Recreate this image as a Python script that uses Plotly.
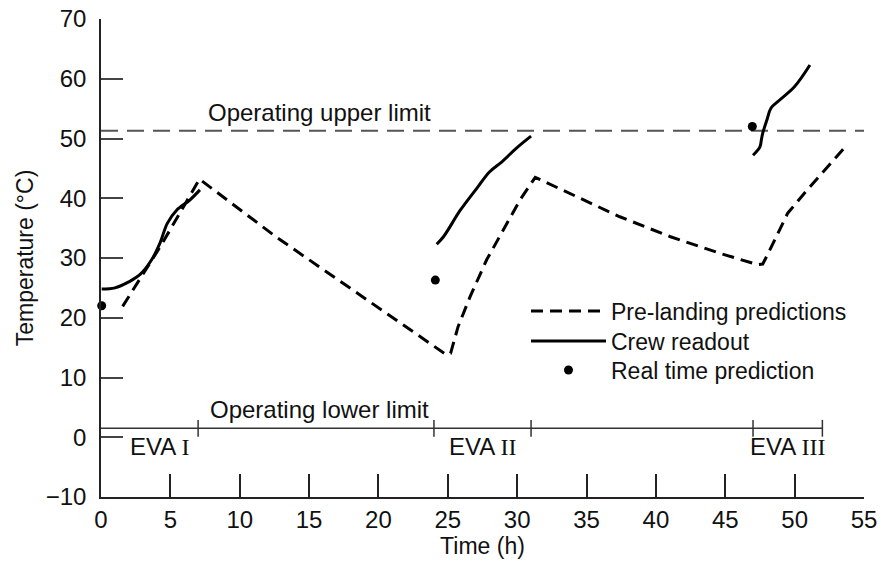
import plotly.graph_objects as go

# ---------------- data ----------------
pre_x = [1.56, 4.3, 7.1, 12.7, 24.9, 25.2, 25.74, 26.6, 27.8, 29.1, 30.2, 31.3,
         33.8, 37.4, 41.0, 44.6, 47.3, 47.7, 48.1, 48.7, 49.5, 50.8, 52.3, 53.5]
pre_y = [21.9, 32.0, 43.2, 33.4, 13.8, 14.05, 18.5, 23.5, 29.7, 35.2, 39.7, 43.5,
         40.8, 36.9, 33.6, 30.8, 28.9, 29.0, 30.8, 33.6, 37.5, 41.1, 45.0, 48.2]

crew1_x = [0.05, 1.0, 2.0, 2.8, 3.65, 4.25, 4.78, 5.45, 6.4, 7.13]
crew1_y = [24.8, 25.0, 26.0, 27.2, 29.7, 32.5, 35.8, 38.0, 39.7, 41.4]
crew2_x = [24.2, 24.7, 25.9, 27.1, 28.0, 28.9, 29.95, 31.0]
crew2_y = [32.3, 33.6, 38.0, 41.7, 44.4, 46.1, 48.4, 50.4]
crew3_x = [47.0, 47.5, 47.6, 47.7, 48.0, 48.3, 48.9, 50.0, 51.1]
crew3_y = [47.2, 48.6, 49.75, 50.9, 53.1, 55.1, 56.4, 58.7, 62.3]

rt_x = [0.05, 24.1, 46.95]
rt_y = [22.0, 26.3, 52.0]

upper_limit = 51.3
lower_limit = 1.5
eva_names = ["I", "II", "III"]
eva_start = [0, 24, 47]
eva_end = [7, 31, 52]

x_ticks = [0, 5, 10, 15, 20, 25, 30, 35, 40, 45, 50, 55]
y_ticks = [-10, 0, 10, 20, 30, 40, 50, 60, 70]

FONT = "Liberation Sans, Arial, sans-serif"
SERIF = "Liberation Serif"
FS = 24

fig = go.Figure()

# operating upper limit
fig.add_trace(go.Scatter(x=[0, 55], y=[upper_limit, upper_limit], mode="lines",
                         line=dict(color="#555555", width=2, dash="17px,9px"),
                         showlegend=False, hoverinfo="skip", cliponaxis=False))
# operating lower limit with EVA marks
fig.add_trace(go.Scatter(x=[0, eva_end[-1]], y=[lower_limit, lower_limit], mode="lines",
                         line=dict(color="#333333", width=1.5),
                         showlegend=False, hoverinfo="skip", cliponaxis=False))
marks = sorted(set(eva_start[1:] + eva_end))
fig.add_trace(go.Scatter(x=marks, y=[lower_limit] * len(marks), mode="markers",
                         marker=dict(symbol="line-ns", size=12,
                                     line=dict(color="#333333", width=1.5)),
                         showlegend=False, hoverinfo="skip"))

# pre-landing predictions
fig.add_trace(go.Scatter(x=pre_x, y=pre_y, mode="lines", name="Pre-landing predictions",
                         legend="legend",
                         line=dict(color="black", width=3, dash="12px,7px")))
# crew readout
cx = crew1_x + [None] + crew2_x + [None] + crew3_x
cy = crew1_y + [None] + crew2_y + [None] + crew3_y
fig.add_trace(go.Scatter(x=cx, y=cy, mode="lines", name="Crew readout", connectgaps=False,
                         legend="legend2",
                         line=dict(color="black", width=3, shape="spline", smoothing=1.0)))
# real time prediction
fig.add_trace(go.Scatter(x=rt_x, y=rt_y, mode="markers", name="Real time prediction",
                         legend="legend3",
                         marker=dict(color="black", size=9), cliponaxis=False))

annotations = [
    dict(x=7.6, y=upper_limit, xref="x", yref="y", text="Operating upper limit",
         showarrow=False, xanchor="left", yanchor="bottom", yshift=3,
         font=dict(size=FS, color="#111")),
    dict(x=7.7, y=lower_limit, xref="x", yref="y", text="Operating lower limit",
         showarrow=False, xanchor="left", yanchor="bottom", yshift=3,
         font=dict(size=FS, color="#111")),
]
for i, (nm, s, e) in enumerate(zip(eva_names, eva_start, eva_end)):
    annotations.append(dict(
        x=(s + e) / 2, y=lower_limit, xref="x", yref="y",
        text=f"EVA <span style='font-family:{SERIF}'>{nm}</span>",
        showarrow=False, xanchor="center", yanchor="top", yshift=-3,
        xshift=10 if i == 0 else 0,
        font=dict(size=FS, color="#111")))

PLOT_H = 478
leg_common = dict(xanchor="left", yanchor="middle", bgcolor="rgba(0,0,0,0)",
                  itemwidth=75, font=dict(size=23, color="#111"))
lx = 0.557
fig.update_layout(
    width=880, height=563,
    margin=dict(l=101, r=16, t=19, b=66),
    paper_bgcolor="white", plot_bgcolor="white",
    font=dict(family=FONT, size=FS, color="#111"),
    annotations=annotations,
    legend=dict(x=lx, y=(497 - 311) / PLOT_H, **leg_common),
    legend2=dict(x=lx, y=(497 - 341) / PLOT_H, **leg_common),
    legend3=dict(x=lx, y=(497 - 370) / PLOT_H, **leg_common),
)
fig.update_xaxes(range=[0, 55], tickvals=x_ticks, showgrid=False, zeroline=False,
                 automargin=False,
                 showline=True, linecolor="#222", linewidth=1.5,
                 ticks="inside", ticklen=23, tickwidth=1.5, tickcolor="#222",
                 tickfont=dict(size=FS),
                 title=dict(text="Time (h)", standoff=5, font=dict(size=23)))
fig.update_yaxes(range=[-10, 70], tickvals=y_ticks, showgrid=False, zeroline=False,
                 automargin=False,
                 showline=True, linecolor="#222", linewidth=1.5,
                 ticks="inside", ticklen=22, tickwidth=1.5, tickcolor="#444",
                 ticklabelstandoff=8, tickfont=dict(size=FS),
                 title=dict(text="Temperature (°C)", standoff=6, font=dict(size=23)))

# remove the default 8px page margin so the figure fills the window exactly
fig.write_html("out.html", config={"displayModeBar": False},
               post_script="document.body.style.margin='0';document.body.style.overflow='hidden';")
